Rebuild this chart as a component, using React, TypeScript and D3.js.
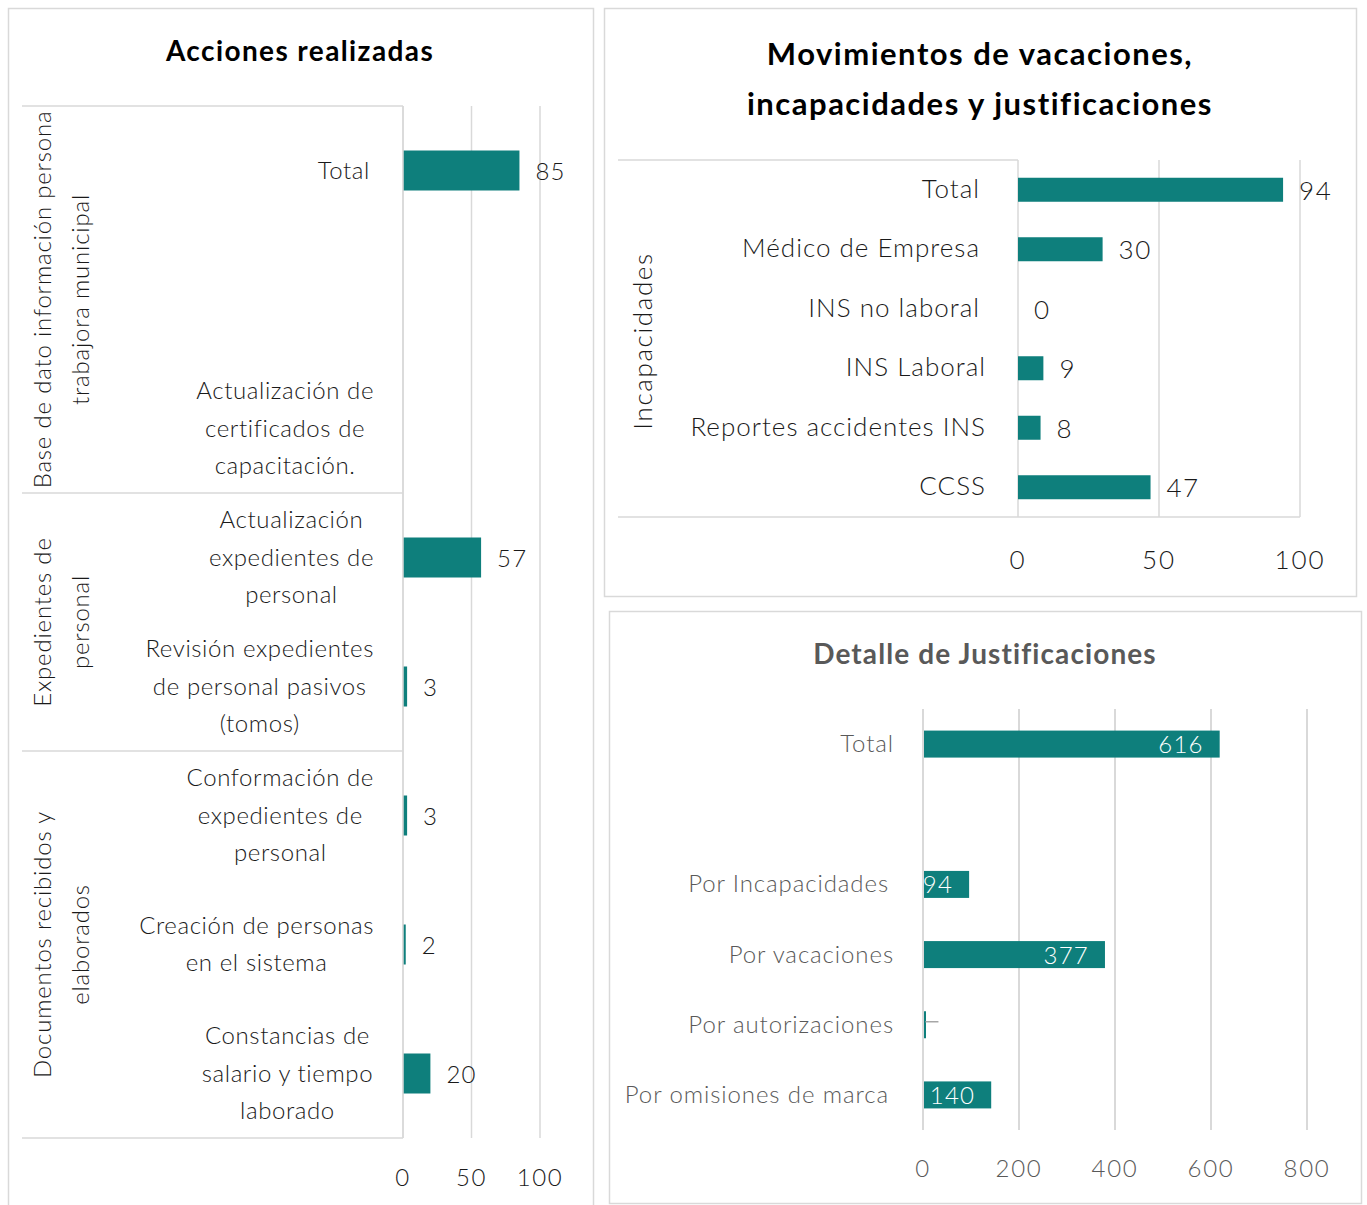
import React from 'react'
import * as d3 from 'd3'

// ---- data ----
const actionLabels: string[][] = [
  ['Total'],
  [''],
  ['Actualización de', 'certificados de', 'capacitación.'],
  ['Actualización', 'expedientes de', 'personal'],
  ['Revisión expedientes', 'de personal pasivos', '(tomos)'],
  ['Conformación de', 'expedientes de', 'personal'],
  ['Creación de personas', 'en el sistema'],
  ['Constancias de', 'salario y tiempo', 'laborado'],
]
const actionValues: (number | null)[] = [85, null, null, 57, 3, 3, 2, 20]
const actionGroups = [
  { label: ['Base de dato información persona', 'trabajora municipal'], count: 3 },
  { label: ['Expedientes de', 'personal'], count: 2 },
  { label: ['Documentos recibidos y', 'elaborados'], count: 3 },
]
const actionTicks = [0, 50, 100]

const incapLabels = ['Total', 'Médico de Empresa', 'INS no laboral', 'INS Laboral', 'Reportes accidentes INS', 'CCSS']
const incapValues = [94, 30, 0, 9, 8, 47]
const incapGroup = 'Incapacidades'
const incapTicks = [0, 50, 100]

const justLabels = ['Total', '', 'Por Incapacidades', 'Por vacaciones', 'Por autorizaciones', 'Por omisiones de marca']
const justValues: (number | null)[] = [616, null, 94, 377, 3, 140]
const justTicks = [0, 200, 400, 600, 800]

const BAR = '#0E7F7C'
const GRID = '#d9d9d9'
const FONT = 'Lato, "DejaVu Sans", sans-serif'

const measure = (() => {
  const c = document.createElement('canvas').getContext('2d')!
  return (t: string, size: number, ls: number) => {
    c.font = `300 ${size}px Lato`
    return c.measureText(t).width + ls * t.length
  }
})()

function ActionsChart() {
  const y = d3.scaleBand<number>().domain(d3.range(actionLabels.length)).range([106, 1138])
  const x = d3.scaleLinear().domain([0, 100]).range([403, 540])
  const bh = 40
  const fs = 24
  const ls = 0.6
  const lh = 37.5
  const labelRight = 374
  let start = 0
  const groupBounds = actionGroups.map(g => {
    const s = start
    start += g.count
    return { ...g, y0: y(s)!, y1: y(s + g.count - 1)! + y.bandwidth() }
  })
  return (
    <g fontFamily={FONT} letterSpacing={ls}>
      <text x={300} y={61} textAnchor="middle" fontSize={28} fontWeight={700} letterSpacing={1.4} fill="#000">Acciones realizadas</text>
      {actionTicks.map(t => (
        <line key={t} x1={x(t)} x2={x(t)} y1={106} y2={1138} stroke={GRID} strokeWidth={1.5} />
      ))}
      {[106, ...groupBounds.map(g => g.y1)].map((yy, i) => (
        <line key={i} x1={22} x2={403} y1={yy} y2={yy} stroke={GRID} strokeWidth={1.5} />
      ))}
      {groupBounds.map((g, i) => {
        const cy = (g.y0 + g.y1) / 2
        return (
          <text key={i} transform={`translate(${62},${cy}) rotate(-90)`} textAnchor="middle" fontSize={fs} fontWeight={300} letterSpacing={0.8} fill="#1a1a1a">
            {g.label.map((l, j) => (
              <tspan key={j} x={0} dy={j === 0 ? -(g.label.length - 1) * lh / 2 + 8 : lh}>{l}</tspan>
            ))}
          </text>
        )
      })}
      {actionLabels.map((lines, i) => {
        const cy = y(i)! + y.bandwidth() / 2
        const w = Math.max(...lines.map(l => measure(l, fs, ls)))
        const cx = lines.length === 1 ? labelRight - 4 : labelRight - w / 2
        return (
          <text key={i} textAnchor={lines.length === 1 ? 'end' : 'middle'} fontSize={fs} fontWeight={300} fill="#1a1a1a">
            {lines.map((l, j) => (
              <tspan key={j} x={cx} y={cy + (j - (lines.length - 1) / 2) * lh + 8}>{l}</tspan>
            ))}
          </text>
        )
      })}
      {actionValues.map((v, i) => v == null ? null : (
        <g key={i}>
          <rect x={x(0)} y={y(i)! + y.bandwidth() / 2 - bh / 2} width={x(v) - x(0)} height={bh} fill={BAR} />
          <text x={x(v) + 16} y={y(i)! + y.bandwidth() / 2 + 9} fontSize={fs} fontWeight={300} letterSpacing={1.2} fill="#1a1a1a">{v}</text>
        </g>
      ))}
      <line x1={403} x2={403} y1={106} y2={1138} stroke={GRID} strokeWidth={1.5} />
      {actionTicks.map(t => (
        <text key={t} x={x(t)} y={1186} textAnchor="middle" fontSize={fs} fontWeight={300} letterSpacing={1.5} fill="#1a1a1a">{t}</text>
      ))}
    </g>
  )
}

function IncapChart() {
  const y = d3.scaleBand<number>().domain(d3.range(incapLabels.length)).range([160, 517])
  const x = d3.scaleLinear().domain([0, 100]).range([1018, 1300])
  const bh = 24
  const fs = 26
  return (
    <g fontFamily={FONT} letterSpacing={1}>
      <text x={980} y={65} textAnchor="middle" fontSize={31} fontWeight={700} letterSpacing={1.5} fill="#000">Movimientos de vacaciones,</text>
      <text x={980} y={115} textAnchor="middle" fontSize={31} fontWeight={700} letterSpacing={1.5} fill="#000">incapacidades y justificaciones</text>
      {incapTicks.slice(1).map(t => (
        <line key={t} x1={x(t)} x2={x(t)} y1={160} y2={517} stroke={GRID} strokeWidth={1.5} />
      ))}
      <line x1={618} x2={1018} y1={160} y2={160} stroke={GRID} strokeWidth={1.5} />
      <line x1={618} x2={1300} y1={517} y2={517} stroke={GRID} strokeWidth={1.5} />
      <line x1={1018} x2={1018} y1={160} y2={517} stroke={GRID} strokeWidth={1.5} />
      <text transform={`translate(652,${341}) rotate(-90)`} textAnchor="middle" fontSize={fs} fontWeight={300} letterSpacing={1.6} fill="#1a1a1a">{incapGroup}</text>
      {incapLabels.map((l, i) => (
        <text key={i} x={i < 3 ? 980 : 986} y={y(i)! + y.bandwidth() / 2 + 8} textAnchor="end" fontSize={fs} fontWeight={300} fill="#1a1a1a">{l}</text>
      ))}
      {incapValues.map((v, i) => (
        <g key={i}>
          {v > 0 && <rect x={x(0)} y={y(i)! + y.bandwidth() / 2 - bh / 2} width={x(v) - x(0)} height={bh} fill={BAR} />}
          <text x={x(v) + 16} y={y(i)! + y.bandwidth() / 2 + 10} fontSize={fs} fontWeight={300} letterSpacing={1.5} fill="#1a1a1a">{v}</text>
        </g>
      ))}
      {incapTicks.map(t => (
        <text key={t} x={x(t)} y={569} textAnchor="middle" fontSize={fs} fontWeight={300} letterSpacing={2} fill="#1a1a1a">{t}</text>
      ))}
    </g>
  )
}

function JustChart() {
  const y = d3.scaleBand<number>().domain(d3.range(justLabels.length)).range([709, 1130])
  const x = d3.scaleLinear().domain([0, 800]).range([923, 1307])
  const bh = 27
  const fs = 24
  const gray = '#595959'
  return (
    <g fontFamily={FONT} letterSpacing={0.9}>
      <text x={985} y={664} textAnchor="middle" fontSize={28} fontWeight={700} letterSpacing={1.1} fill={gray}>Detalle de Justificaciones</text>
      {justTicks.map(t => (
        <line key={t} x1={x(t)} x2={x(t)} y1={709} y2={1130} stroke={GRID} strokeWidth={2} />
      ))}
      {justLabels.map((l, i) => (
        <text key={i} x={i === 0 || i === 3 || i === 4 ? 894 : 889} y={y(i)! + y.bandwidth() / 2 + 8} textAnchor="end" fontSize={fs} fontWeight={300} fill={gray}>{l}</text>
      ))}
      {justValues.map((v, i) => {
        if (v == null) return null
        const cy = y(i)! + y.bandwidth() / 2
        const w = x(v) - x(0)
        return (
          <g key={i}>
            <rect x={x(0) + 1} y={cy - bh / 2} width={Math.max(w, 2)} height={bh} fill={BAR} />
            {w > 30 ? (
              <text x={x(v) - 15} y={cy + 9} textAnchor="end" fontSize={fs} fontWeight={300} letterSpacing={1.2} fill="#fff">{v}</text>
            ) : (
              <line x1={x(v) + 1} x2={x(v) + 14} y1={cy - 3} y2={cy - 3} stroke="#a6a6a6" strokeWidth={1.5} />
            )}
          </g>
        )
      })}
      {justTicks.map(t => (
        <text key={t} x={x(t)} y={1177} textAnchor="middle" fontSize={fs} fontWeight={300} letterSpacing={1.8} fill={gray}>{t}</text>
      ))}
    </g>
  )
}

export default function App() {
  return (
    <svg width={1367} height={1205} style={{ position: 'absolute', left: 0, top: 0, background: '#fff' }}>
      <rect x={8.5} y={8.5} width={585} height={1210} fill="#fff" stroke={GRID} strokeWidth={1.5} />
      <rect x={604.5} y={8.5} width={752} height={588} fill="#fff" stroke={GRID} strokeWidth={1.5} />
      <rect x={609.5} y={611.5} width={752} height={592} fill="#fff" stroke={GRID} strokeWidth={1.5} />
      <ActionsChart />
      <IncapChart />
      <JustChart />
    </svg>
  )
}
